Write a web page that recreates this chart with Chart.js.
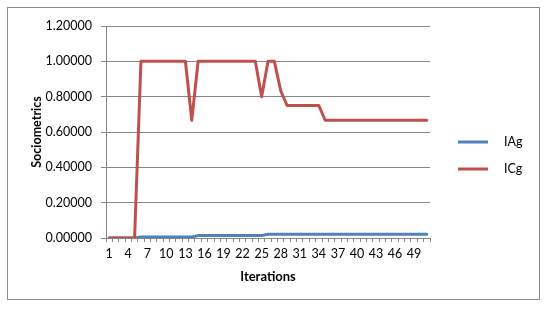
<!DOCTYPE html>
<html>
<head>
<meta charset="utf-8">
<script src="https://cdn.jsdelivr.net/npm/chart.js@4.4.0/dist/chart.umd.min.js"></script>
<style>
  body { margin: 0; background: #fff; }
  #frame { position: absolute; left: 7px; top: 7px; width: 531px; height: 291px; border: 1px solid #8c8c8c; }
</style>
</head>
<body>
<div id="frame"><canvas id="myChart" width="531" height="291"></canvas></div>
<script>
// iterations 1..51
var iterations = [];
for (let i = 1; i <= 51; i++) iterations.push(String(i));

var seriesNames = ['IAg', 'ICg'];

var iagValues = [0, 0, 0, 0, 0,
  0.006, 0.006, 0.006, 0.006, 0.006, 0.006, 0.006, 0.006, 0.006,
  0.0135, 0.0135, 0.0135, 0.0135, 0.0135, 0.0135, 0.0135, 0.0135, 0.0135, 0.0135, 0.0135,
  0.021, 0.021, 0.021, 0.021, 0.021, 0.021, 0.021, 0.021, 0.021, 0.021,
  0.021, 0.021, 0.021, 0.021, 0.021, 0.021, 0.021, 0.021, 0.021, 0.021,
  0.021, 0.021, 0.021, 0.021, 0.021, 0.021];

var icgValues = [0, 0, 0, 0, 0,
  1, 1, 1, 1, 1, 1, 1, 1,
  0.66667,
  1, 1, 1, 1, 1, 1, 1, 1, 1, 1,
  0.8,
  1, 1,
  0.83333,
  0.75, 0.75, 0.75, 0.75, 0.75, 0.75,
  0.66667, 0.66667, 0.66667, 0.66667, 0.66667, 0.66667, 0.66667, 0.66667, 0.66667,
  0.66667, 0.66667, 0.66667, 0.66667, 0.66667, 0.66667, 0.66667, 0.66667];

var yTicks = [0, 0.2, 0.4, 0.6, 0.8, 1.0, 1.2];

const blue = '#4f81bd';
const red = '#c0504d';
const gridGrey = '#868686';
const fontName = 'Lato, "Open Sans", sans-serif';

// legend drawn on the right, Excel style
const sideLegend = {
  id: 'sideLegend',
  afterDraw(chart) {
    const ctx = chart.ctx;
    const sets = chart.data.datasets;
    ctx.save();
    ctx.font = '12.5px ' + fontName;
    ctx.textBaseline = 'middle';
    for (let i = 0; i < sets.length; i++) {
      const y = 134 + i * 27;
      ctx.strokeStyle = sets[i].borderColor;
      ctx.lineWidth = 3;
      ctx.beginPath();
      ctx.moveTo(450, y);
      ctx.lineTo(480, y);
      ctx.stroke();
      ctx.fillStyle = '#000';
      ctx.fillText(sets[i].label, 496, y);
    }
    ctx.restore();
  }
};

const ctx = document.getElementById('myChart');

new Chart(ctx, {
  type: 'line',
  data: {
    labels: iterations,
    datasets: [{
      label: seriesNames[0],
      data: iagValues,
      borderColor: blue,
      backgroundColor: blue,
      borderWidth: 3,
      pointRadius: 0,
      tension: 0,
      order: 1
    }, {
      label: seriesNames[1],
      data: icgValues,
      borderColor: red,
      backgroundColor: red,
      borderWidth: 3,
      pointRadius: 0,
      tension: 0,
      order: 0
    }]
  },
  options: {
    responsive: false,
    animation: false,
    borderCapStyle: 'round',
    layout: { padding: { left: 0, right: 109, top: 18, bottom: 0 } },
    elements: { line: { borderJoinStyle: 'round', borderCapStyle: 'round' } },
    plugins: {
      legend: { display: false },
      tooltip: { enabled: false }
    },
    scales: {
      x: {
        offset: true,
        grid: {
          offset: true,
          drawOnChartArea: false,
          color: gridGrey,
          tickLength: 4
        },
        border: { color: gridGrey },
        ticks: {
          autoSkip: false,
          maxRotation: 0,
          padding: 4,
          color: '#000',
          font: { family: fontName, size: 12.5 },
          callback: function (val, idx) { return idx % 3 === 0 ? this.getLabelForValue(val) : ''; }
        },
        title: {
          display: true,
          text: 'Iterations',
          color: '#000',
          padding: 14,
          font: { family: fontName, size: 13, weight: 'bold' }
        },
        afterFit: function (scale) { scale.height = 61; }
      },
      y: {
        min: 0,
        max: 1.2,
        afterBuildTicks: function (scale) { scale.ticks = yTicks.map(v => ({ value: v })); },
        grid: { color: gridGrey, tickLength: 5 },
        border: { color: gridGrey },
        ticks: {
          padding: 9,
          color: '#000',
          font: { family: fontName, size: 12.5 },
          callback: function (v) { return Number(v).toFixed(5); }
        },
        title: {
          display: true,
          text: 'Sociometrics',
          color: '#000',
          padding: 21,
          font: { family: fontName, size: 12.5, weight: 'bold' }
        },
        afterFit: function (scale) { scale.width = 98; }
      }
    }
  },
  plugins: [sideLegend]
});
</script>
</body>
</html>
